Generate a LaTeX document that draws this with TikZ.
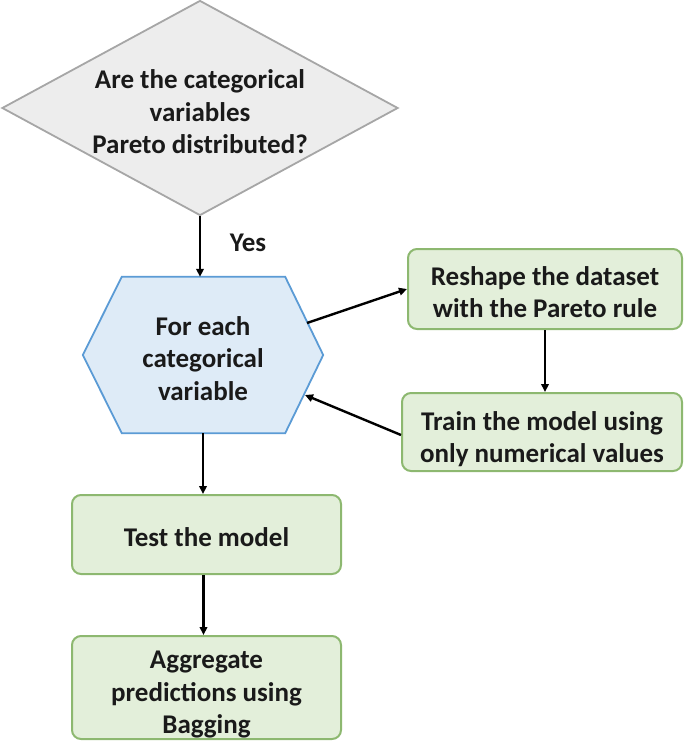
\documentclass[tikz,border=0pt]{standalone}
\usepackage{fontspec}
\setmainfont{Carlito}
\usetikzlibrary{shapes.geometric,arrows.meta,backgrounds,calc}
\definecolor{txtc}{HTML}{1A1A1A}
\definecolor{diafill}{HTML}{EDEDED}
\definecolor{diadraw}{HTML}{A6A6A6}
\definecolor{hexfill}{HTML}{DEEBF7}
\definecolor{hexdraw}{HTML}{5B9BD5}
\definecolor{gfill}{HTML}{E3EFDA}
\definecolor{gdraw}{HTML}{8DB870}
\newcommand{\mvtxt}[2]{\raisebox{-#1}[\height][\depth]{\begin{tabular}{@{}c@{}}#2\end{tabular}}}
\tikzset{
  txt/.style={font=\bfseries\fontsize{27}{32.5}\selectfont, align=center, text=txtc},
  decision/.style={txt, diamond, draw=diadraw, fill=diafill, line width=1.8pt, aspect=1.84,
    minimum width=396pt, minimum height=215pt, inner sep=0pt},
  hexnode/.style={txt, minimum width=240pt, minimum height=156pt, inner sep=0pt},
  hexline/.style={draw=hexdraw, fill=hexfill, line width=1.8pt, line join=miter},
  gbox/.style={txt, draw=gdraw, fill=gfill, line width=2pt, rounded corners=9pt, inner sep=0pt},
  arr/.style={draw=black, line width=2.4pt, -{Triangle[length=8pt,width=7.5pt]}}
}
\begin{document}
\begin{tikzpicture}[x=1pt,y=-1pt]
\useasboundingbox (0,0) rectangle (685,743);

\node[decision] (dia) at (200,108) {\mvtxt{7pt}{Are the categorical\\variables\\Pareto distributed?}};
\node[txt] (yes) at (248,243) {Yes};

\node[hexnode] (hex) at (203,355) {\mvtxt{6pt}{For each\\categorical\\variable}};
\begin{scope}[on background layer]
  \draw[hexline] (hex.west) -- ($(hex.north west)+(39,0)$) -- ($(hex.north east)+(-38,0)$)
    -- (hex.east) -- ($(hex.south east)+(-38,0)$) -- ($(hex.south west)+(39,0)$) -- cycle;
\end{scope}
\coordinate (hexA) at (307,323);
\coordinate (hexB) at (305,395);

\node[gbox, minimum width=274pt, minimum height=80pt] (resh) at (545,289) {\mvtxt{6pt}{Reshape the dataset\\with the Pareto rule}};
\node[gbox, minimum width=280pt, minimum height=78pt] (train) at (542,432) {\mvtxt{8pt}{Train the model using\\only numerical values}};
\node[gbox, minimum width=269pt, minimum height=79pt] (test) at (206.5,534.5) {\mvtxt{5pt}{Test the model}};
\node[gbox, minimum width=269pt, minimum height=103pt] (agg) at (206.5,687.5) {\mvtxt{7pt}{Aggregate\\predictions using\\Bagging}};

\draw[arr] (dia.south) -- (dia.south |- hex.north);
\draw[arr] (hexA) -- (resh.west);
\draw[arr] (resh.south) -- (resh.south |- train.north);
\draw[arr] ($(train.west)+(0,3)$) -- (hexB);
\draw[arr] (hex.south) -- (hex.south |- test.north);
\draw[arr] ($(test.south)+(-3,0)$) -- ($(agg.north)+(-3,0)$);
\end{tikzpicture}
\end{document}
